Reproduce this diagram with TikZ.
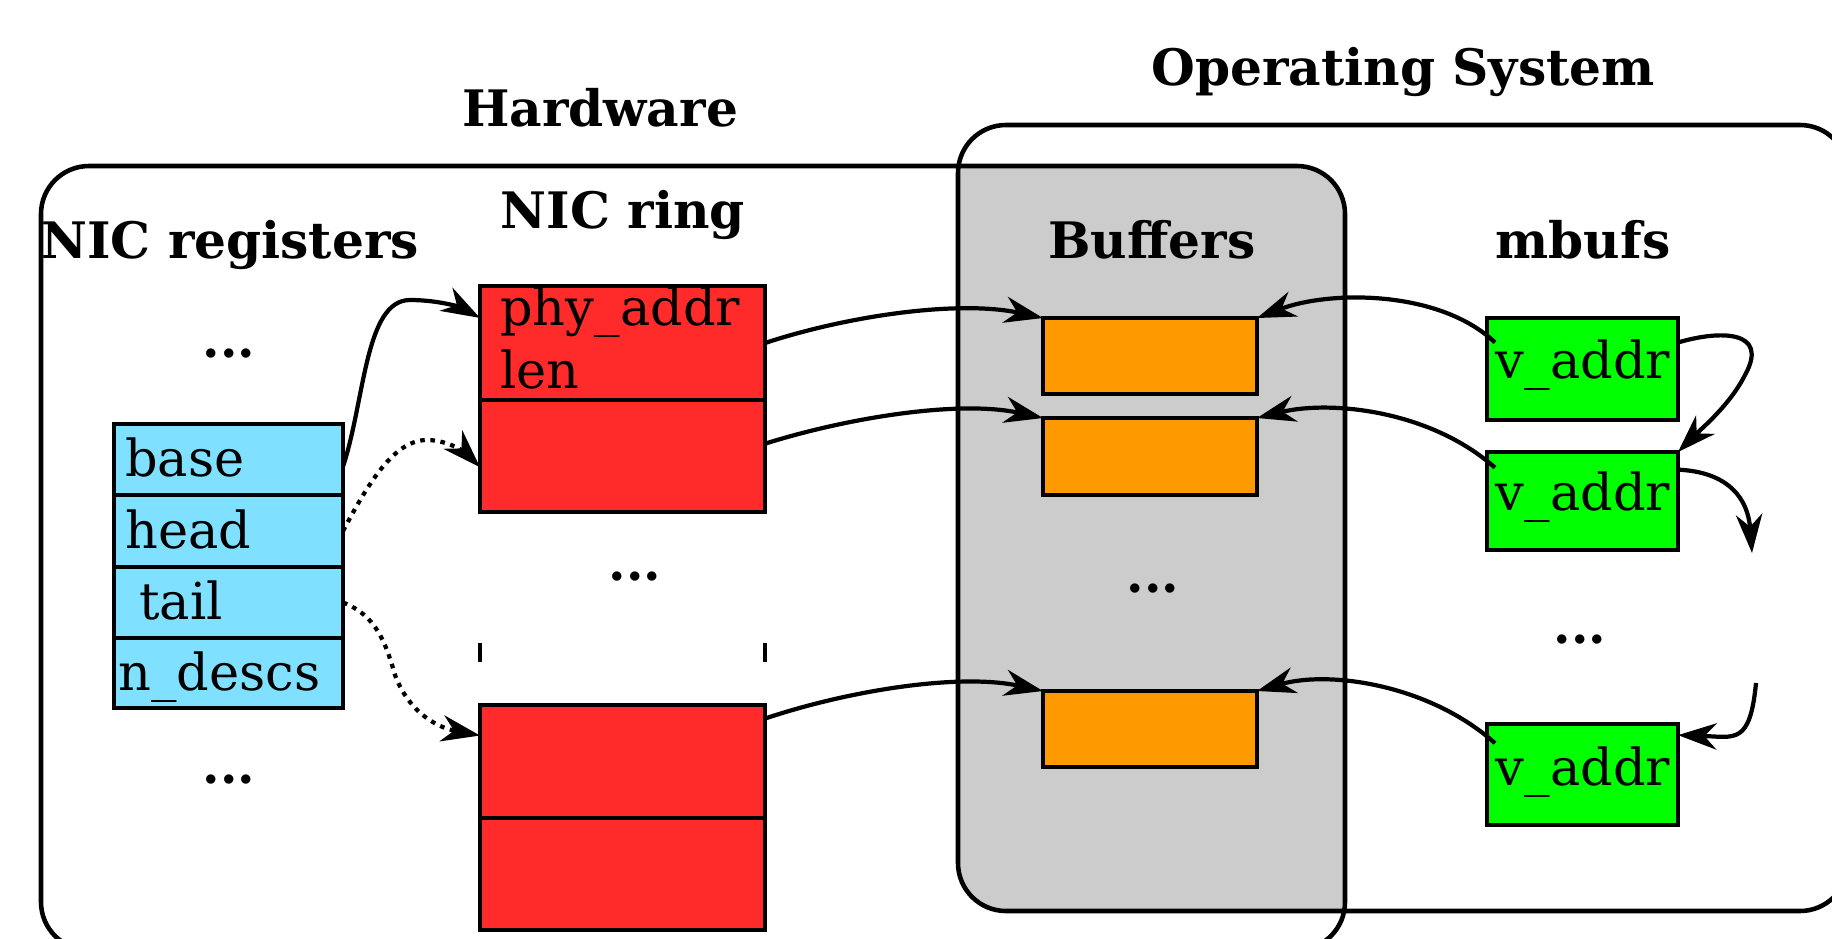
\documentclass[tikz,border=0pt]{standalone}
\usepackage{fontspec}
\setmainfont{DejaVu Serif}
\usetikzlibrary{arrows.meta,fit,calc}
\definecolor{regc}{HTML}{80E0FF}
\definecolor{ringc}{HTML}{FF2A2A}
\definecolor{bufc}{HTML}{FF9900}
\definecolor{mbufc}{HTML}{00FF00}
\definecolor{grayc}{HTML}{CCCCCC}
\begin{document}
\begin{tikzpicture}[x=0.02cm,y=-0.02cm,
  boxst/.style={draw=black,line width=2.6pt,inner sep=0pt,outer sep=0pt},
  lbl/.style={font=\fontsize{28.6}{34}\selectfont\bfseries,inner sep=0pt,anchor=base},
  txt/.style={font=\fontsize{29}{34}\selectfont,inner sep=0pt,anchor=base west},
  ctxt/.style={font=\fontsize{29}{34}\selectfont,inner sep=0pt,anchor=base},
  conn/.style={line width=2.4pt,-{Stealth[length=22pt,width=15pt,inset=7pt]}},
  dotc/.style={conn,dash pattern=on 2.6pt off 3.2pt},
  frame/.style={line width=2.6pt,rounded corners=0.96cm}
]
\useasboundingbox (0,0) rectangle (1832,938);
\clip (0,0) rectangle (1832,938);

% gray overlap
\begin{scope}
  \clip[rounded corners=0.96cm] (41,166) rectangle (1345,950);
  \fill[grayc,rounded corners=0.96cm] (958,125) rectangle (1848,911);
\end{scope}
\draw[frame] (41,166) rectangle (1345,950);
\draw[frame] (958,125) rectangle (1848,911);

% titles
\node[lbl] (tHW) at (600,126) {Hardware};
\node[lbl] (tOS) at (1403,85) {Operating System};
\node[lbl] (tReg) at (230,258) {NIC registers};
\node[lbl] (tRing) at (623,228) {NIC ring};
\node[lbl] (tBuf) at (1152,258) {Buffers};
\node[lbl] (tMbuf) at (1583,258) {mbufs};

% NIC registers
\node[boxst,fill=regc,fit={(114,424)(343,495)}] (base) {};
\node[boxst,fill=regc,fit={(114,495)(343,567)}] (head) {};
\node[boxst,fill=regc,fit={(114,567)(343,638)}] (tail) {};
\node[boxst,fill=regc,fit={(114,638)(343,708)}] (ndescs) {};
\node[txt] (tbase) at (125,476) {base};
\node[txt] (thead) at (125,548) {head};
\node[txt] (ttail) at (139,619) {tail};
\node[txt] (tnd) at (118,690) {n\_descs};
\node[lbl] (d1) at (229,357) {...};
\node[lbl] (d2) at (229,783) {...};

% NIC ring
\node[boxst,fill=ringc,fit={(480,286)(765,400)}] (ring1) {};
\node[boxst,fill=ringc,fit={(480,400)(765,512)}] (ring2) {};
\node[boxst,fill=ringc,fit={(480,705)(765,818)}] (ring3) {};
\node[boxst,fill=ringc,fit={(480,818)(765,930)}] (ring4) {};
\node[txt] (tphy) at (500,325) {phy\_addr};
\node[txt] (tlen) at (500,388) {len};
\node[lbl] (d3) at (635,580) {...};
\draw[line width=2.6pt] (480,643) -- (480,662);
\draw[line width=2.6pt] (765,643) -- (765,662);

% Buffers
\node[boxst,fill=bufc,fit={(1043,318)(1257,394)}] (buf1) {};
\node[boxst,fill=bufc,fit={(1043,418)(1257,495)}] (buf2) {};
\node[boxst,fill=bufc,fit={(1043,691)(1257,767)}] (buf3) {};
\node[lbl] (d4) at (1153,592) {...};

% mbufs
\node[boxst,fill=mbufc,fit={(1487,318)(1678,420)}] (mb1) {};
\node[boxst,fill=mbufc,fit={(1487,452)(1678,550)}] (mb2) {};
\node[boxst,fill=mbufc,fit={(1487,724)(1678,825)}] (mb3) {};
\node[ctxt] (tv1) at (1583,378) {v\_addr};
\node[ctxt] (tv2) at (1583,510) {v\_addr};
\node[ctxt] (tv3) at (1583,785) {v\_addr};
\node[lbl] (d5) at (1580,643) {...};

\coordinate (f1) at (1752,553);
\coordinate (f2) at (1756,683);

% registers -> ring
\draw[conn] ($(base.north east)!0.6!(base.south east)$) .. controls (365,400) and (365,300) .. (410,300)
  .. controls (440,300) and (462,308) .. ($(ring1.north west)!0.28!(ring1.south west)$);
\draw[dotc] (head.east) .. controls (370,480) and (395,440) .. (427,440)
  .. controls (450,440) and (468,455) .. ($(ring2.north west)!0.6!(ring2.south west)$);
\draw[dotc] (tail.east) .. controls (375,615) and (385,640) .. (395,675)
  .. controls (410,715) and (440,728) .. ($(ring3.north west)!0.27!(ring3.south west)$);

% ring -> buffers
\draw[conn] (ring1.east) .. controls (850,315) and (960,300) .. (buf1.north west);
\draw[conn] ($(ring2.north east)!0.39!(ring2.south east)$) .. controls (850,417) and (960,400) .. (buf2.north west);
\draw[conn] ($(ring3.north east)!0.12!(ring3.south east)$) .. controls (850,690) and (960,673) .. (buf3.north west);

% mbufs -> buffers
\draw[conn] ([xshift=0.16cm]$(mb1.north west)!0.24!(mb1.south west)$) .. controls (1440,290) and (1330,290) .. (buf1.north east);
\draw[conn] ([xshift=0.16cm]$(mb2.north west)!0.16!(mb2.south west)$) .. controls (1430,410) and (1330,400) .. (buf2.north east);
\draw[conn] ([xshift=0.16cm]$(mb3.north west)!0.19!(mb3.south west)$) .. controls (1430,685) and (1330,670) .. (buf3.north east);

% mbuf chain
\draw[conn] ($(mb1.north east)!0.24!(mb1.south east)$) .. controls (1720,330) and (1770,330) .. (1745,375)
  .. controls (1730,405) and (1700,430) .. (mb2.north east);
\draw[conn] ($(mb2.north east)!0.18!(mb2.south east)$) .. controls (1730,472) and (1748,500) .. (f1);
\draw[conn] (f2) .. controls (1750,745) and (1735,737) .. ($(mb3.north east)!0.11!(mb3.south east)$);
\end{tikzpicture}
\end{document}
